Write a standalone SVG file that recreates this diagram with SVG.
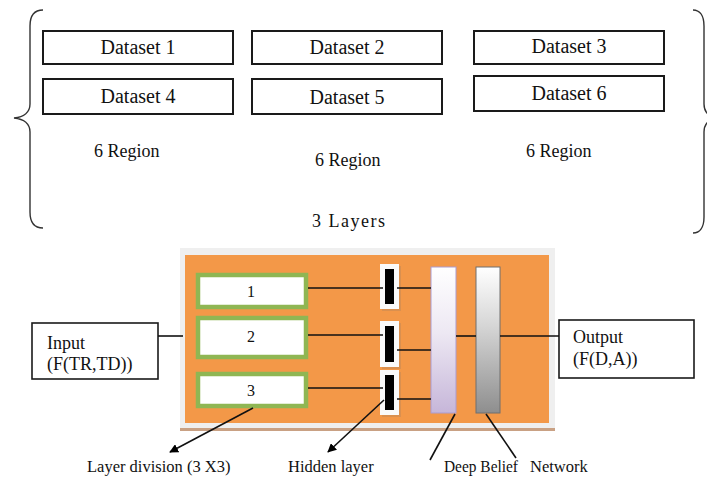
<svg xmlns="http://www.w3.org/2000/svg" width="707" height="479" viewBox="0 0 707 479">
  <defs>
    <style>
      .serif { font-family: "Liberation Serif", "Times New Roman", serif; fill: #111; }
      .ds { font-size: 20px; text-anchor: middle; }
      .lbl { font-size: 18px; }
      .small { font-size: 16.5px; }
      .box { fill: #fff; stroke: #1a1a1a; stroke-width: 2; }
      .iobox { fill: #fff; stroke: #1a1a1a; stroke-width: 1.6; }
      .brace { fill: none; stroke: #333; stroke-width: 1.4; }
      .gbox { fill: #fff; stroke: #8fb653; stroke-width: 4.5; }
      .wire { stroke: #111; stroke-width: 1.6; fill: none; }
      .unit-bg { fill: #fafafa; }
      .unit-core { fill: #000; }
    </style>
    <linearGradient id="lavender" x1="0" y1="0" x2="0" y2="1">
      <stop offset="0" stop-color="#ffffff"/>
      <stop offset="0.45" stop-color="#ede8f3"/>
      <stop offset="1" stop-color="#c6b6d9"/>
    </linearGradient>
    <linearGradient id="grey" x1="0" y1="0" x2="0" y2="1">
      <stop offset="0" stop-color="#ffffff"/>
      <stop offset="0.4" stop-color="#d6d6d6"/>
      <stop offset="1" stop-color="#8e8e8e"/>
    </linearGradient>
    <marker id="arrow" viewBox="0 0 10 10" refX="9" refY="5" markerWidth="9" markerHeight="9" markerUnits="userSpaceOnUse" orient="auto">
      <path d="M0,0 L10,5 L0,10 Z" fill="#000"/>
    </marker>
  </defs>

  <rect width="707" height="479" fill="#fff"/>

  <!-- braces framing the dataset layers -->
  <path class="brace" d="M43,10 C34,10 30,16 30,26 L30,104 C30,112 24,117 14,118 C24,119 30,124 30,132 L30,212 C30,222 34,228 43,228"/>
  <path class="brace" d="M693,10 C700,10 704,16 704,26 L704,104 C704,112 709,117 716,118 C709,119 704,124 704,132 L704,217 C704,227 700,233 693,233"/>

  <g id="dataset1"><rect class="box" x="43" y="31" width="190" height="33"/><text class="serif ds" x="138" y="54">Dataset 1</text></g>
  <g id="dataset2"><rect class="box" x="252" y="31" width="190" height="33"/><text class="serif ds" x="347" y="54">Dataset 2</text></g>
  <g id="dataset3"><rect class="box" x="474" y="31" width="190" height="33"/><text class="serif ds" x="569" y="53">Dataset 3</text></g>
  <g id="dataset4"><rect class="box" x="43" y="79" width="190" height="35"/><text class="serif ds" x="138" y="103">Dataset 4</text></g>
  <g id="dataset5"><rect class="box" x="252" y="79" width="190" height="35"/><text class="serif ds" x="347" y="104">Dataset 5</text></g>
  <g id="dataset6"><rect class="box" x="474" y="76" width="190" height="35"/><text class="serif ds" x="569" y="100">Dataset 6</text></g>

  <g id="region-labels">
    <text class="serif lbl" x="94" y="157">6 Region</text>
    <text class="serif lbl" x="315" y="166">6 Region</text>
    <text class="serif lbl" x="526" y="157">6 Region</text>
    <text class="serif lbl" x="312" y="227" letter-spacing="1.5">3 Layers</text>
  </g>

  <!-- processing panel -->
  <g id="panel">
    <rect x="180" y="248" width="375" height="182" fill="#efefef"/>
    <rect x="180" y="428" width="375" height="3" fill="#c9a184"/>
    <rect x="185" y="255" width="364" height="168" fill="#f39848"/>
  </g>

  <g id="division1"><rect class="gbox" x="198" y="275" width="108" height="32"/><text class="serif" x="251" y="297" font-size="16" text-anchor="middle">1</text></g>
  <g id="division2"><rect class="gbox" x="198" y="318" width="108" height="39"/><text class="serif" x="251" y="342" font-size="16" text-anchor="middle">2</text></g>
  <g id="division3"><rect class="gbox" x="198" y="374" width="108" height="32"/><text class="serif" x="251" y="396" font-size="16" text-anchor="middle">3</text></g>

  <g id="hidden1"><rect x="382" y="266" width="19" height="45" fill="#c98a55" opacity="0.6"/><rect class="unit-bg" x="380" y="264" width="19" height="45"/><rect class="unit-core" x="385" y="269" width="9" height="35"/></g>
  <g id="hidden2"><rect x="382" y="323" width="19" height="46" fill="#c98a55" opacity="0.6"/><rect class="unit-bg" x="380" y="321" width="19" height="46"/><rect class="unit-core" x="385" y="326" width="9" height="36"/></g>
  <g id="hidden3"><rect x="382" y="372" width="19" height="45" fill="#c98a55" opacity="0.6"/><rect class="unit-bg" x="380" y="370" width="19" height="45"/><rect class="unit-core" x="385" y="375" width="9" height="35"/></g>

  <g id="dbn1"><rect x="431" y="267" width="25" height="146" fill="url(#lavender)" stroke="#ab9bcf" stroke-width="1"/></g>
  <g id="dbn2"><rect x="476" y="267" width="24" height="146" fill="url(#grey)" stroke="#6f6f6f" stroke-width="1"/></g>

  <g id="input"><rect class="iobox" x="32" y="323" width="126" height="56"/><text class="serif lbl" x="47" y="349">Input</text><text class="serif lbl" x="47" y="370">(F(TR,TD))</text></g>
  <g id="output"><rect class="iobox" x="559" y="320" width="135" height="58"/><text class="serif lbl" x="573" y="343">Output</text><text class="serif lbl" x="573" y="365">(F(D,A))</text></g>

  <g id="connectors">
    <line class="wire" x1="158" y1="336" x2="183" y2="336"/>
    <line class="wire" x1="308" y1="288" x2="383" y2="288"/>
    <line class="wire" x1="308" y1="335" x2="383" y2="335"/>
    <line class="wire" x1="308" y1="388" x2="383" y2="388"/>
    <line class="wire" x1="397" y1="288" x2="431" y2="288"/>
    <line class="wire" x1="397" y1="350" x2="431" y2="350"/>
    <line class="wire" x1="397" y1="399" x2="431" y2="399"/>
    <line class="wire" x1="456" y1="336" x2="476" y2="336"/>
    <line class="wire" x1="500" y1="336" x2="559" y2="336"/>
    <line class="wire" x1="253" y1="408" x2="170" y2="452" marker-end="url(#arrow)"/>
    <line class="wire" x1="384" y1="400" x2="328" y2="452" marker-end="url(#arrow)"/>
    <line class="wire" x1="455" y1="414" x2="430" y2="460"/>
    <line class="wire" x1="486" y1="414" x2="516" y2="458"/>
  </g>

  <g id="bottom-labels">
    <text class="serif small" x="87" y="472">Layer division (3 X3)</text>
    <text class="serif small" x="288" y="472">Hidden layer</text>
    <text class="serif small" y="472"><tspan x="444" textLength="74" lengthAdjust="spacingAndGlyphs">Deep Belief</tspan><tspan x="530">Network</tspan></text>
  </g>
</svg>
